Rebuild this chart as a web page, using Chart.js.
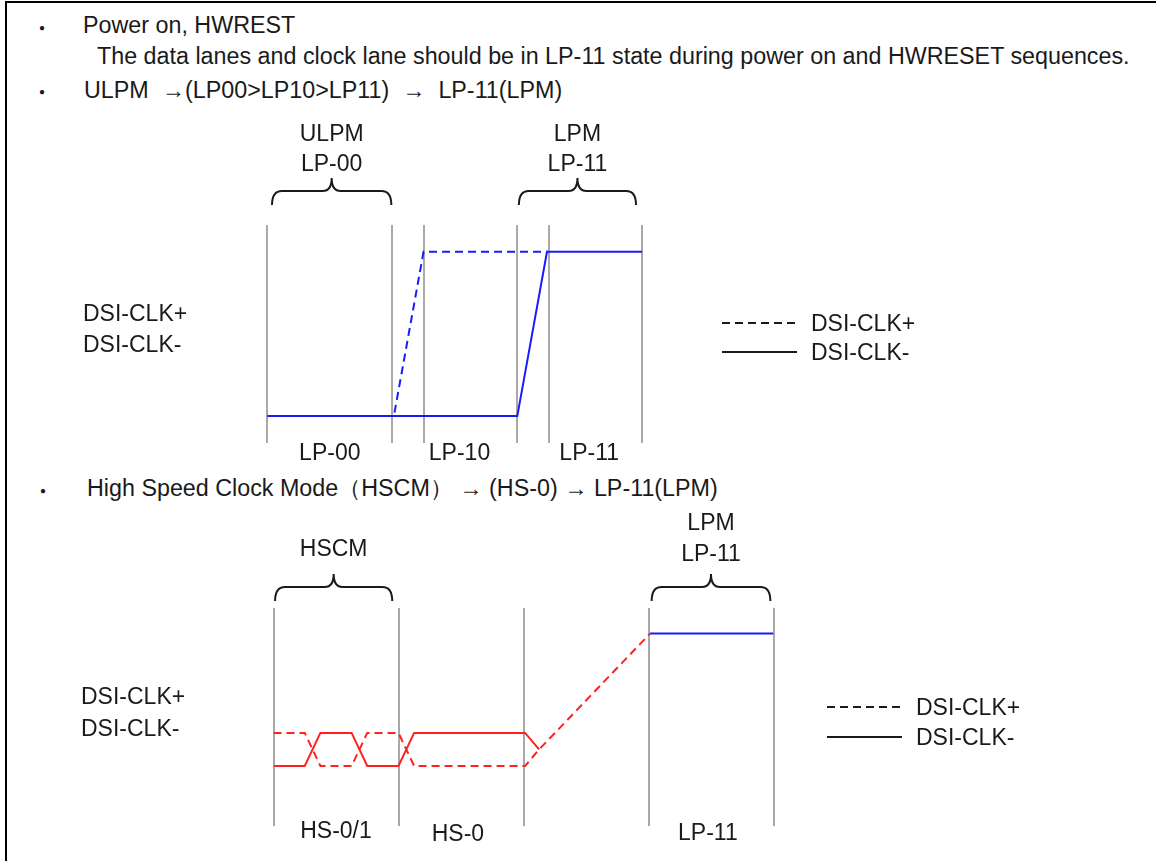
<!DOCTYPE html>
<html>
<head>
<meta charset="utf-8">
<script src="https://cdn.jsdelivr.net/npm/chart.js@4.4.1/dist/chart.umd.min.js"></script>
<style>
  body { margin: 0; background: #fff; width: 1156px; height: 861px; overflow: hidden; position: relative;
         font-family: "Liberation Sans", Arial, sans-serif; color: #1a1a1a; }
  #frame { position: absolute; left: 5px; top: 1px; width: 1151px; height: 860px;
           border-left: 2px solid #000; border-top: 2px solid #000; }
  .t { position: absolute; font-size: 23.3px; line-height: 23px; white-space: pre; }
  .b { position: absolute; font-size: 20px; line-height: 20px; font-family: "Noto Sans CJK JP", sans-serif; }
  canvas { position: absolute; left: 0; top: 0; }
</style>
</head>
<body>
<div id="frame"></div>
<div class="b" style="left:32px;top:18px">・</div>
<div class="t" style="left:83px;top:14px">Power on, HWREST</div>
<div class="t" style="left:97px;top:45px">The data lanes and clock lane should be in LP-11 state during power on and HWRESET sequences.</div>
<div class="b" style="left:32px;top:82px">・</div>
<div class="t" style="left:84px;top:79px">ULPM  →(LP00&gt;LP10&gt;LP11)  →  LP-11(LPM)</div>
<div class="b" style="left:33px;top:481px">・</div>
<div class="t" style="left:87px;top:477px">High Speed Clock Mode（HSCM） → (HS-0) → LP-11(LPM)</div>
<canvas id="ulpm" width="1156" height="861"></canvas>
<canvas id="hscm" width="1156" height="861"></canvas>
<script>
// ULPM -> (LP00 > LP10 > LP11) -> LP-11, time in arbitrary units
const ulpmBounds = [0, 4, 5, 8, 9, 12];
const ulpmStates = ['LP-00', 'LP-10', 'LP-11'];
const ulpmStateAt = [2, 6.15, 10.3];
const ulpmPlusT = [0, 4.05, 5, 9];
const ulpmPlusV = [0, 0, 1, 1];
const ulpmMinusT = [0, 8, 8.95, 12];
const ulpmMinusV = [0, 0, 1, 1];

// HSCM -> (HS-0) -> LP-11, HS low = 0, HS high = 1, LP high = 4
const hscmBounds = [0, 8, 16, 24, 32];
const hscmStates = ['HS-0/1', 'HS-0', 'LP-11'];
const hscmStateAt = [4, 11.8, 27.8];
const hsPlusT = [0, 2, 3, 5, 6, 8, 9, 16.1, 17, 24.1];
const hsPlusV = [1, 1, 0, 0, 1, 1, 0, 0, 0.5, 4];
const hsMinusT = [0, 2, 3, 5, 6, 8, 9, 16.1, 17];
const hsMinusV = [0, 0, 1, 1, 0, 0, 1, 1, 0.5];
const lpT = [24.1, 32];
const lpV = [4, 4];

const legendNames = ['DSI-CLK+', 'DSI-CLK-'];

const FONT = '23px "Liberation Sans", Arial, sans-serif';
const BLUE = '#1a1aff';
const RED = '#ff2020';

function pts(ts, vs) {
  return ts.map((t, i) => ({x: t, y: vs[i]}));
}

function drawBrace(ctx, x1, x2, arm, bar, tip) {
  const xm = (x1 + x2) / 2;
  const r = 10, k = 9;
  ctx.beginPath();
  ctx.moveTo(x1, arm);
  ctx.quadraticCurveTo(x1, bar, x1 + r, bar);
  ctx.lineTo(xm - k, bar);
  ctx.quadraticCurveTo(xm, bar, xm, tip);
  ctx.quadraticCurveTo(xm, bar, xm + k, bar);
  ctx.lineTo(x2 - r, bar);
  ctx.quadraticCurveTo(x2, bar, x2, arm);
  ctx.stroke();
}

// labels, braces, side names and legend around each diagram
const extras = {
  id: 'extras',
  afterDraw(chart, args, o) {
    const ctx = chart.ctx;
    const xs = chart.scales.x;
    ctx.save();
    ctx.font = FONT;
    ctx.fillStyle = '#1a1a1a';
    ctx.textBaseline = 'middle';
    ctx.textAlign = 'center';
    o.states.forEach((s, i) => ctx.fillText(s, xs.getPixelForValue(o.stateAt[i]), o.stateY[i]));

    ctx.strokeStyle = '#1a1a1a';
    ctx.lineWidth = 2;
    o.braces.forEach(b => {
      const x1 = xs.getPixelForValue(b.from), x2 = xs.getPixelForValue(b.to);
      drawBrace(ctx, x1, x2, b.arm, b.bar, b.tip);
      b.text.forEach((t, i) => ctx.fillText(t, (x1 + x2) / 2, b.textY[i]));
    });

    ctx.textAlign = 'left';
    legendNames.forEach((n, i) => ctx.fillText(n, o.side.x, o.side.y[i]));

    legendNames.forEach((n, i) => {
      ctx.setLineDash(i === 0 ? [8, 5] : []);
      ctx.beginPath();
      ctx.moveTo(o.legend.x, o.legend.y[i]);
      ctx.lineTo(o.legend.x + 75, o.legend.y[i]);
      ctx.stroke();
      ctx.fillText(n, o.legend.x + 89, o.legend.y[i] + 2);
    });
    ctx.restore();
  }
};

function makeChart(id, box, bounds, xmax, ymin, ymax, datasets, opts) {
  return new Chart(document.getElementById(id), {
    type: 'line',
    data: {datasets},
    options: {
      responsive: false,
      animation: false,
      devicePixelRatio: 1,
      layout: {padding: {left: box.left, top: box.top, right: 1156 - box.right, bottom: 861 - box.bottom}},
      plugins: {legend: {display: false}, tooltip: {enabled: false}, extras: opts},
      elements: {point: {radius: 0}, line: {tension: 0, borderWidth: 2}},
      scales: {
        x: {
          type: 'linear', min: 0, max: xmax,
          grid: {color: '#a9a9a9', lineWidth: 2, drawTicks: false},
          border: {display: false},
          ticks: {display: false},
          afterBuildTicks: s => { s.ticks = bounds.map(v => ({value: v})); }
        },
        y: {display: false, min: ymin, max: ymax}
      }
    },
    plugins: [extras]
  });
}

makeChart('ulpm', {left: 267.3, top: 225, right: 642.3, bottom: 443}, ulpmBounds, 12, -0.164, 1.163, [
  {label: 'DSI-CLK-', data: pts(ulpmMinusT, ulpmMinusV), borderColor: BLUE},
  {label: 'DSI-CLK+', data: pts(ulpmPlusT, ulpmPlusV), borderColor: BLUE, borderDash: [8, 5]}
], {
  states: ulpmStates, stateAt: ulpmStateAt, stateY: [454, 454, 454],
  braces: [
    {from: 0.15, to: 3.97, arm: 205, bar: 191, tip: 178, text: ['ULPM', 'LP-00'], textY: [135, 165]},
    {from: 8.05, to: 11.8, arm: 205, bar: 191, tip: 178, text: ['LPM', 'LP-11'], textY: [135, 165]}
  ],
  side: {x: 83, y: [315, 346]},
  legend: {x: 722, y: [323, 352]}
});

makeChart('hscm', {left: 273.5, top: 608, right: 773.5, bottom: 826}, hscmBounds, 32, -1.813, 4.773, [
  {label: 'DSI-CLK-', data: pts(hsMinusT, hsMinusV), borderColor: RED},
  {label: 'DSI-CLK+', data: pts(hsPlusT, hsPlusV), borderColor: RED, borderDash: [8, 5]},
  {label: 'LP-11', data: pts(lpT, lpV), borderColor: BLUE}
], {
  states: hscmStates, stateAt: hscmStateAt, stateY: [832, 835, 834],
  braces: [
    {from: 0.1, to: 7.6, arm: 601, bar: 587, tip: 574, text: ['HSCM'], textY: [550]},
    {from: 24.2, to: 31.8, arm: 601, bar: 587, tip: 574, text: ['LPM', 'LP-11'], textY: [524, 555]}
  ],
  side: {x: 81, y: [698, 730]},
  legend: {x: 827, y: [707, 737]}
});
</script>
</body>
</html>
